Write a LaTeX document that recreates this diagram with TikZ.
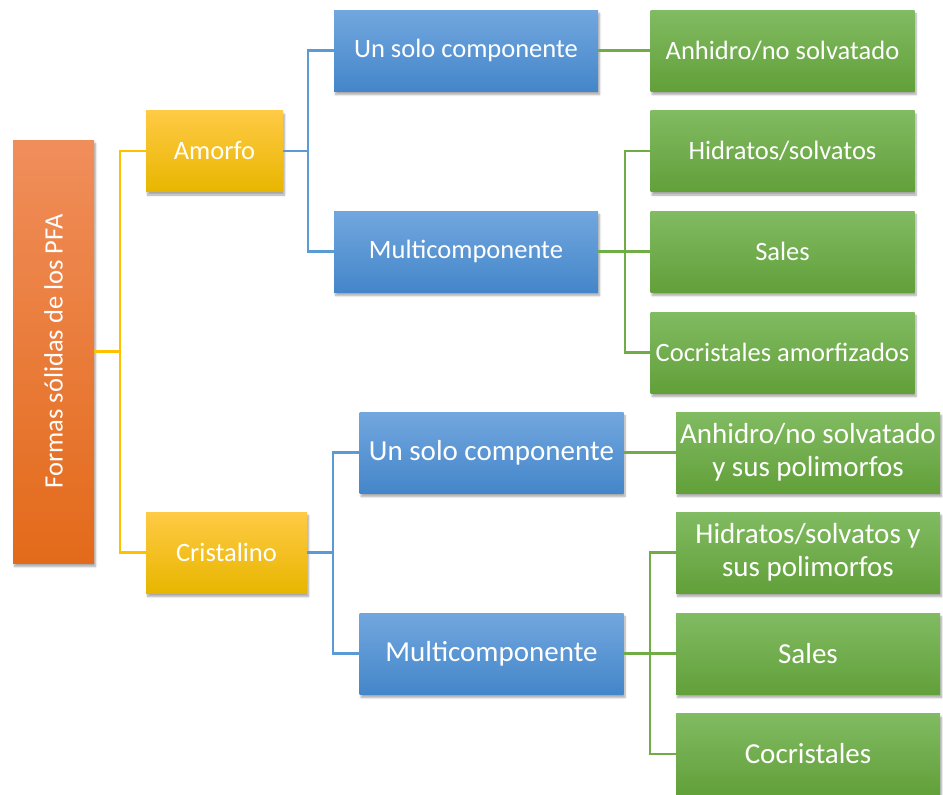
\documentclass[tikz,border=0pt]{standalone}
\usepackage{fontspec}
\setmainfont{Carlito}
\usetikzlibrary{shadows.blur}
\definecolor{pfaorange}{HTML}{F47D30}
\definecolor{pfaorangetop}{HTML}{F08E5B}
\definecolor{pfaorangebot}{HTML}{E36A1A}
\definecolor{pfagold}{HTML}{FFC000}
\definecolor{pfagoldtop}{HTML}{FFCA45}
\definecolor{pfagoldbot}{HTML}{E8B600}
\definecolor{pfablue}{HTML}{5B9BD5}
\definecolor{pfabluetop}{HTML}{72A7DE}
\definecolor{pfabluebot}{HTML}{4486CA}
\definecolor{pfagreen}{HTML}{70AD47}
\definecolor{pfagreentop}{HTML}{81BB62}
\definecolor{pfagreenbot}{HTML}{62A03A}
\tikzset{
  box/.style={rectangle,inner sep=2pt,align=center,text=white,font=\fontsize{26.5}{32}\selectfont,
    blur shadow={shadow xshift=1.5pt,shadow yshift=-3.5pt,shadow blur steps=6,shadow opacity=35}},
  big/.style={font=\fontsize{29}{33}\selectfont},
  rootbox/.style={box,minimum width=81pt,minimum height=423pt,top color=pfaorangetop,middle color=pfaorange,bottom color=pfaorangebot},
  kindbox/.style={box,minimum height=81pt,top color=pfagoldtop,middle color=pfagold,bottom color=pfagoldbot},
  compbox/.style={box,minimum width=264pt,minimum height=81pt,top color=pfabluetop,middle color=pfablue,bottom color=pfabluebot},
  formbox/.style={box,minimum width=264pt,minimum height=81pt,top color=pfagreentop,middle color=pfagreen,bottom color=pfagreenbot},
  lnk/.style={line width=2.25pt},
  lnkgold/.style={lnk,draw=pfagold},
  lnkblue/.style={lnk,draw=pfablue},
  lnkgreen/.style={lnk,draw=pfagreen},
}
\begin{document}
\begin{tikzpicture}[x=1pt,y=-1pt]
  \useasboundingbox (0,0) rectangle (943,795);
  \node[rootbox] (root) at (53.5,351.5) {\rotatebox{90}{Formas sólidas de los PFA}};
  \node[kindbox,minimum width=137pt] (amorfo) at (214.5,151) {Amorfo};
  \node[kindbox,minimum width=161pt] (cristal) at (226.5,552.5) {Cristalino};
  % amorphous side
  \node[compbox] (aUno) at (466,50.5) {Un solo componente};
  \node[compbox] (aMulti) at (466,251.5) {Multicomponente};
  \node[formbox] (aAnh) at (782.5,50.5) {Anhidro/no solvatado};
  \node[formbox] (aHid) at (782.5,151) {Hidratos/solvatos};
  \node[formbox] (aSal) at (782.5,251.5) {Sales};
  \node[formbox] (aCoc) at (782.5,352.5) {Cocristales amorfizados};
  % crystalline side
  \node[compbox,big] (cUno) at (491.5,452.5) {Un solo componente};
  \node[compbox,big] (cMulti) at (491.5,653.5) {Multicomponente};
  \node[formbox,big] (cAnh) at (808,452.5) {Anhidro/no solvatado\\y sus polimorfos};
  \node[formbox,big] (cHid) at (808,552.5) {Hidratos/solvatos y\\sus polimorfos};
  \node[formbox,big] (cSal) at (808,653.5) {Sales};
  \node[formbox,big] (cCoc) at (808,754) {Cocristales};
  % elbow connectors
  \foreach \n in {amorfo,cristal} \draw[lnkgold] (root.east) -- ++(26,0) |- (\n.west);
  \foreach \n in {aUno,aMulti} \draw[lnkblue] (amorfo.east) -- ++(25,0) |- (\n.west);
  \foreach \n in {cUno,cMulti} \draw[lnkblue] (cristal.east) -- ++(26,0) |- (\n.west);
  \draw[lnkgreen] (aUno.east) -- (aAnh.west);
  \foreach \n in {aHid,aSal,aCoc} \draw[lnkgreen] (aMulti.east) -- ++(26.5,0) |- (\n.west);
  \draw[lnkgreen] (cUno.east) -- (cAnh.west);
  \foreach \n in {cHid,cSal,cCoc} \draw[lnkgreen] (cMulti.east) -- ++(26.5,0) |- (\n.west);
\end{tikzpicture}
\end{document}
